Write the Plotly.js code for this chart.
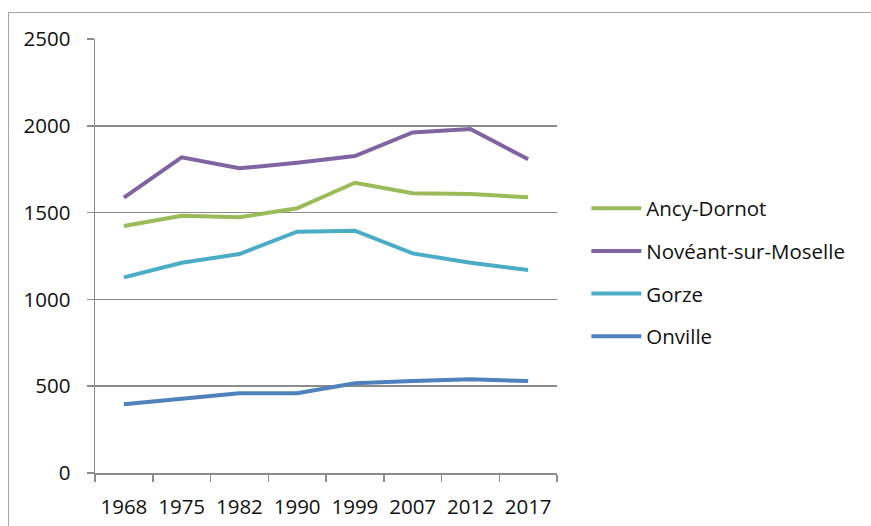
<!DOCTYPE html>
<html>
<head>
<meta charset="utf-8">
<script src="https://cdn.plot.ly/plotly-3.0.1.min.js"></script>
<style>
  html, body { margin: 0; padding: 0; background: #fff; overflow: hidden; }
  #frame { position: absolute; left: 8px; top: 12px; width: 2000px; height: 2000px;
           border-left: 1.5px solid #a6a6a6; border-top: 1.5px solid #a6a6a6; pointer-events: none; }
  #chart { position: absolute; left: 0; top: 0; width: 871px; height: 526px; }
</style>
</head>
<body>
<div id="chart"></div>
<div id="frame"></div>
<script>
const years = ["1968", "1975", "1982", "1990", "1999", "2007", "2012", "2017"];
const ancyDornot = [1423, 1482, 1473, 1525, 1672, 1611, 1607, 1588];
const noveant = [1586, 1818, 1755, 1787, 1826, 1962, 1981, 1807];
const gorze = [1127, 1211, 1261, 1390, 1396, 1265, 1211, 1169];
const onville = [396, 430, 459, 459, 517, 530, 540, 530];
const seriesNames = ["Ancy-Dornot", "Novéant-sur-Moselle", "Gorze", "Onville"];
const seriesColors = ["#9bbb59", "#8064a2", "#4bacc6", "#4f81bd"];
const yTicks = [0, 500, 1000, 1500, 2000, 2500];

const allSeries = [ancyDornot, noveant, gorze, onville];
const traces = allSeries.map((vals, i) => ({
  type: "scatter",
  mode: "lines",
  x: years,
  y: vals,
  name: seriesNames[i],
  legendgroup: "g" + i,
  line: { color: seriesColors[i], width: 4 },
  hoverinfo: "skip"
}));

const font = { family: "Open Sans, Noto Sans, sans-serif", size: 20.5, color: "#111" };

const layout = {
  width: 871, height: 526,
  margin: { l: 95, r: 314, t: 39, b: 53, pad: 0 },
  paper_bgcolor: "rgba(0,0,0,0)",
  plot_bgcolor: "#fff",
  font: font,
  showlegend: true,
  legend: {
    x: 1.0635, xanchor: "left", y: 0.462, yanchor: "middle",
    font: font, tracegroupgap: 13, itemwidth: 50,
    bgcolor: "rgba(0,0,0,0)"
  },
  xaxis: {
    type: "category",
    range: [-0.5, 7.5],
    showline: true, linecolor: "#8c8c8c", linewidth: 1.5,
    ticks: "outside", tickson: "boundaries", ticklen: 7, tickcolor: "#8c8c8c", tickwidth: 1.5,
    showgrid: false, zeroline: false,
    tickfont: font, ticklabelstandoff: 15
  },
  yaxis: {
    range: [0, 2500],
    tickvals: yTicks,
    showline: true, linecolor: "#8c8c8c", linewidth: 1.5,
    ticks: "outside", ticklen: 7, tickcolor: "#8c8c8c", tickwidth: 1.5,
    showgrid: true, gridcolor: "#8c8c8c", gridwidth: 1.5,
    zeroline: false,
    tickfont: font, ticklabelstandoff: 12
  }
};

Plotly.newPlot("chart", traces, layout, { staticPlot: true, displayModeBar: false });
</script>
</body>
</html>
